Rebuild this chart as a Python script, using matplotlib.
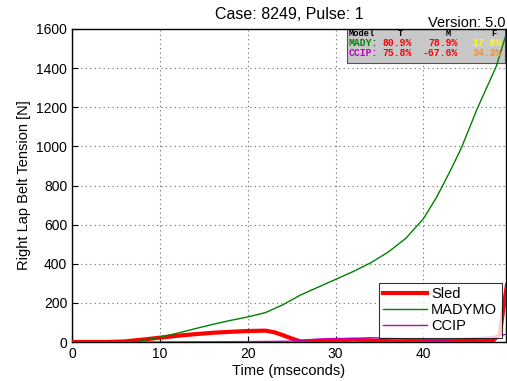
import matplotlib.pyplot as plt
import numpy as np

plt.rcParams['font.family'] = ['Liberation Sans', 'DejaVu Sans']

# time in ms
t_sled = [0, 4, 6, 8, 10, 12, 14, 16, 18, 20, 22, 23, 24, 25, 26, 28, 30, 32, 34, 36, 38, 40, 42, 44, 46, 47, 48, 48.7, 49.1, 49.5]
sled = [0, 0, 3, 12, 22, 32, 40, 47, 52, 56, 58, 50, 35, 18, 3, 5, 8, 12, 8, 4, 3, 6, 5, 4, 6, 8, 10, 40, 170, 290]

t_mady = [0, 6, 7.5, 10, 12, 14, 16, 18, 20, 22, 24, 26, 28, 30, 32, 34, 36, 38, 40, 41.5, 43, 44.3, 45.2, 46.1, 47.2, 48.3, 49.4]
mady = [0, 0, 2, 25, 45, 68, 90, 110, 128, 150, 190, 240, 280, 320, 360, 405, 460, 530, 630, 740, 870, 990, 1090, 1190, 1300, 1410, 1570]

t_ccip = [0, 10, 20, 25, 27, 28, 30, 32, 34, 36, 38, 40, 42, 44, 46, 48, 49.5]
ccip = [0, 0, 2, 4, 12, 15, 18, 18, 22, 20, 15, 12, 10, 14, 20, 28, 40]

tbl_rows = ['MADY:', 'CCIP:']
tbl_cols = ['T', 'M', 'F']
tbl_vals = [['80.9%', '78.9%', '17.8%'], ['75.8%', '-67.6%', '34.3%']]
tbl_colors = [['red', 'red', 'yellow'], ['red', 'red', '#ff8c1a']]
row_colors = ['green', 'm']

fig = plt.figure(figsize=(5.07, 3.81), dpi=100)
ax = fig.add_axes([72/507, 1 - 342/381, (506 - 72)/507, (342 - 29)/381])

ax.plot(t_sled, sled, color='red', lw=3, label='Sled', zorder=3)
ax.plot(t_mady, mady, color='green', lw=1, label='MADYMO', zorder=4)
ax.plot(t_ccip, ccip, color='m', lw=1, label='CCIP', zorder=3)

ax.set_xlim(0, 49.4)
ax.set_ylim(0, 1600)
ax.set_xticks([0, 10, 20, 30, 40])
ax.set_yticks(range(0, 1601, 200))
ax.grid(True, linestyle=(0, (1, 3)), color='#666666', lw=0.8)
ax.tick_params(direction='in', labelsize=10, length=4)
ax.set_xlabel('Time (mseconds)', fontsize=10.5, labelpad=2)
ax.set_ylabel('Right Lap Belt Tension [N]', fontsize=10.5)
ax.set_title('Case: 8249, Pulse: 1', fontsize=11.5, pad=7)
for s in ax.spines.values():
    s.set_linewidth(1)

fig.text(0.997, 1 - 27/381, 'Version: 5.0', ha='right', va='baseline', fontsize=10.5)

# stats box, positioned in pixels
def px(x, y):
    return (x - 72) / 434 * 49.4, (342 - y) / 313 * 1600

bx0, bx1 = 347, 505
by0, by1 = 29, 63
x0, y0 = px(bx0, by1)
x1, y1 = px(bx1, by0)
ax.add_patch(plt.Rectangle((x0, y0), x1 - x0, y1 - y0,
                           facecolor='#c8c8c8', edgecolor='#555555', lw=0.8, zorder=2))
mono = dict(family='Liberation Mono', fontsize=7, fontweight='bold', zorder=5, va='center')
hdr = dict(mono, fontsize=6.3)
ax.text(*px(349, 33), 'Model', color='black', ha='left', **hdr)
for j, cx in enumerate([400, 448, 494]):
    ax.text(*px(cx, 33), tbl_cols[j], color='black', ha='center', **hdr)
for i, r in enumerate(tbl_rows):
    yy = 43 + 10 * i
    ax.text(*px(349, yy), r, color=row_colors[i], ha='left', **mono)
    for j, rx in enumerate([412, 458, 502]):
        ax.text(*px(rx, yy), tbl_vals[i][j], color=tbl_colors[i][j], ha='right', **mono)

leg = ax.legend(loc='lower right', fontsize=10.5, fancybox=False, edgecolor='black',
                handlelength=3, borderpad=0.3, labelspacing=0.15, handletextpad=0.3,
                borderaxespad=0.3)
leg.get_frame().set_linewidth(0.8)
leg.set_zorder(6)

fig.savefig('out.png', dpi=100)
